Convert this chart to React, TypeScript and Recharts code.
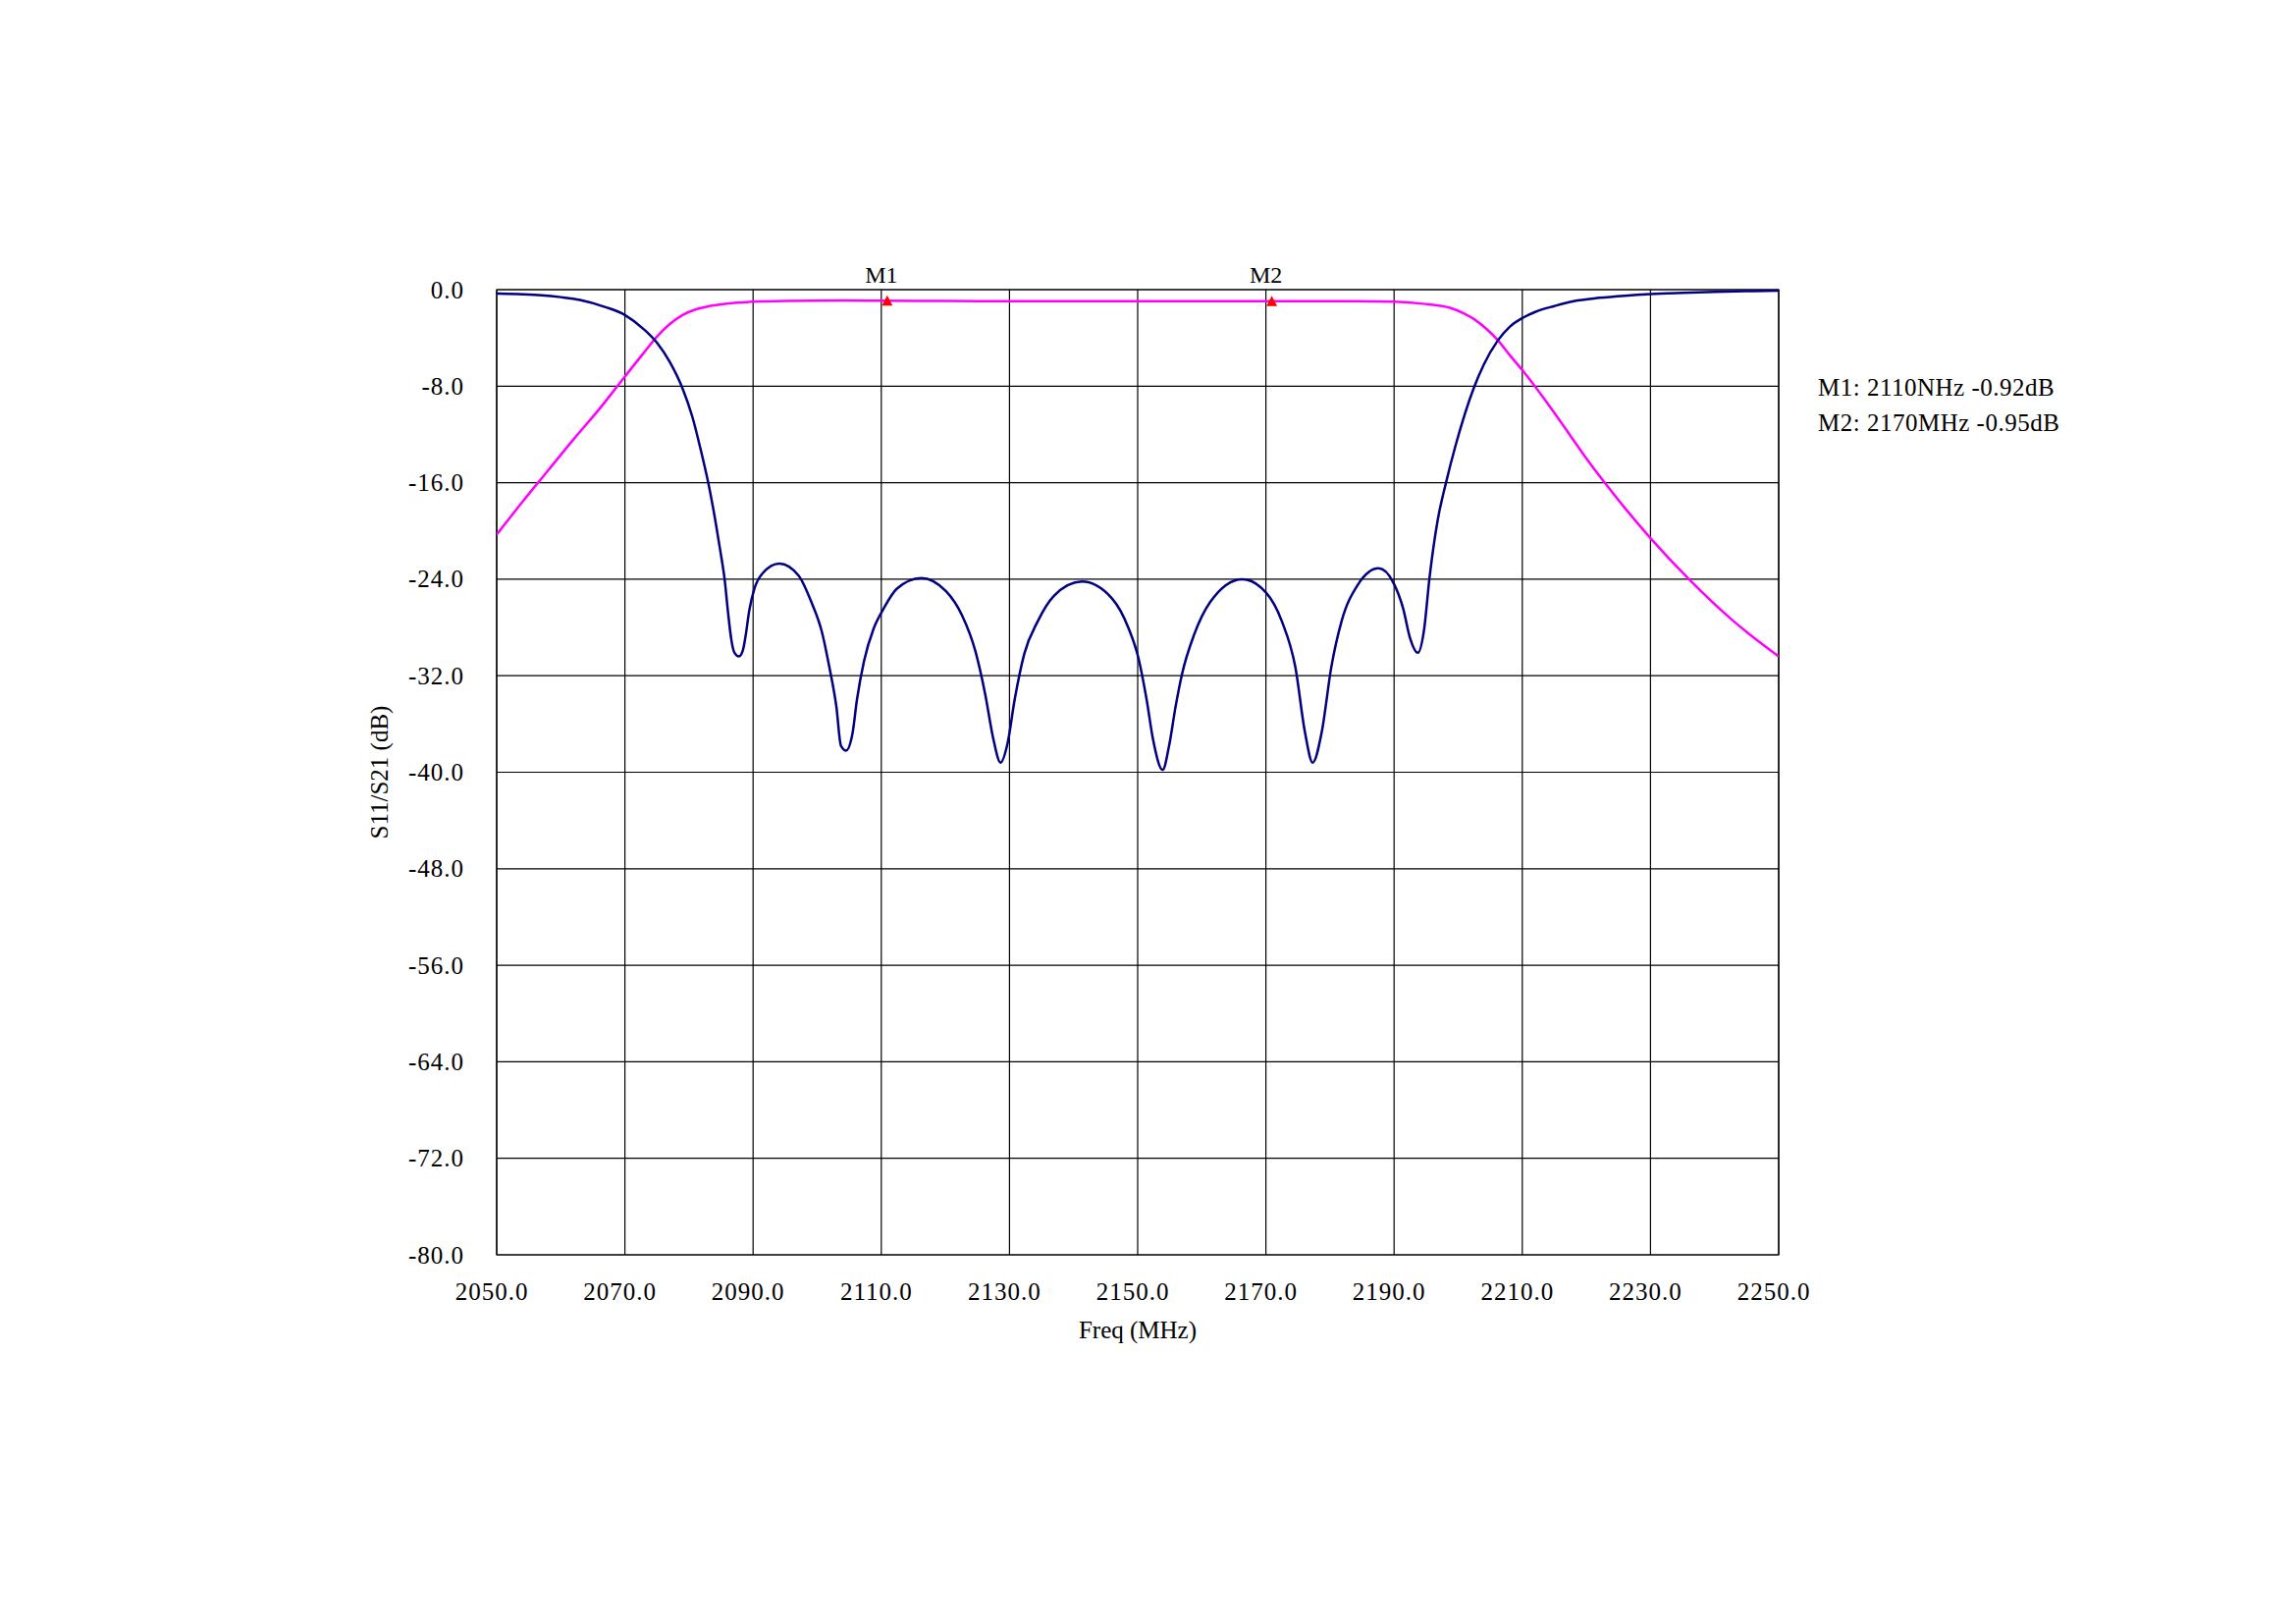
import React from "react";
import { LineChart, Line, XAxis, YAxis, CartesianGrid, ReferenceDot, ReferenceArea } from "recharts";

const FONT = '"Liberation Serif", "Times New Roman", serif';

// axis ticks
const freqTicks = [2050, 2070, 2090, 2110, 2130, 2150, 2170, 2190, 2210, 2230, 2250];
const levelTicks = [0, -8, -16, -24, -32, -40, -48, -56, -64, -72, -80];

// S11 (return loss)
const s11Freq = [
  2050, 2054, 2057, 2060, 2063, 2067, 2070, 2073, 2075, 2077, 2079, 2080.5, 2081.8, 2083, 2084.1,
  2084.9, 2085.6, 2086.1, 2086.6, 2087.1, 2087.8, 2088.4, 2088.8, 2089.4, 2090.2, 2091.5, 2094.1, 2097.1,
  2099.1, 2100.7, 2101.9, 2103, 2103.7, 2104.5, 2105.5, 2106.2, 2107.3, 2108.8, 2110.4, 2112.4, 2116.2,
  2120.1, 2122.6, 2124.7, 2126.2, 2127.5, 2128.6, 2129.7, 2130.8, 2132.3, 2134.4, 2136.9, 2141.3, 2146,
  2148.6, 2150.1, 2151.4, 2152.4, 2153.9, 2154.9, 2155.9, 2156.9, 2158.8, 2161.3, 2166.3, 2170, 2172.5,
  2174.6, 2176.1, 2177.3, 2178.7, 2180.2, 2181.8, 2184.3, 2187.6, 2189.9, 2191.4, 2192.5, 2193.7, 2194.7,
  2195.5, 2196.8, 2198.1, 2199.6, 2201.1, 2202.4, 2204, 2206.2, 2208, 2210.2, 2212, 2215, 2218, 2222,
  2226, 2230, 2235, 2240, 2245, 2250,
];
const s11Db = [
  -0.33, -0.38, -0.46, -0.62, -0.85, -1.45, -2.1, -3.3, -4.4, -6.0, -8.2, -10.5, -13.2, -16.0, -19.1,
  -21.7, -24.2, -26.8, -29.0, -30.1, -30.4, -29.9, -28.8, -26.6, -24.8, -23.5, -22.7, -23.7,
  -25.9, -28.3, -31.3, -34.6, -37.8, -38.2, -36.8, -34.0, -30.8, -28.1, -26.4, -24.8, -23.9,
  -25.0, -27.0, -30.0, -33.5, -37.3, -39.2, -37.6, -34.0, -30.2, -27.5, -25.4, -24.2, -25.6,
  -28.1, -30.5, -34.0, -37.3, -39.8, -37.8, -34.6, -31.9, -28.6, -25.9, -24.0, -25.1, -27.5,
  -31.3, -36.7, -39.2, -36.7, -31.3, -27.5, -24.5, -23.1, -24.3, -26.4, -28.9, -30.1, -28.1,
  -24.0, -19.1, -16.0, -12.9, -10.2, -8.2, -6.2, -4.2, -3.1, -2.3, -1.85, -1.36, -0.95, -0.68,
  -0.5, -0.37, -0.27, -0.19, -0.13, -0.08,
];

// S21 (insertion loss)
const s21Freq = [
  2050, 2054, 2058, 2062, 2066, 2070, 2073, 2075, 2077, 2079, 2081, 2083, 2086, 2090, 2095, 2104, 2110,
  2120, 2130, 2150, 2170, 2184, 2190, 2194.5, 2198.6, 2201, 2202.5, 2204.5, 2206.2, 2208, 2210.2, 2213.9,
  2217.5, 2220, 2223, 2226, 2230, 2236, 2243, 2250,
];
const s21Db = [
  -20.3, -17.6, -15.0, -12.4, -9.9, -7.2, -5.2, -3.9, -2.85, -2.1, -1.65, -1.38, -1.15, -1.0, -0.93, -0.9, -0.92,
  -0.94, -0.95, -0.95, -0.95, -0.96, -1.0, -1.17, -1.49, -2.0, -2.45, -3.3, -4.2, -5.4, -6.8, -9.4,
  -12.1, -14.0, -16.1, -18.1, -20.6, -24.0, -27.5, -30.4,
];

// markers
const markerNames = ["M1", "M2"];
const markerFreqs = [2110, 2170];
const markerDb = [-0.92, -0.95];
const markerReadouts = ["M1: 2110NHz -0.92dB", "M2: 2170MHz -0.95dB"];

const s11Data = s11Freq.map((f, i) => ({ f, db: s11Db[i] }));
const s21Data = s21Freq.map((f, i) => ({ f, db: s21Db[i] }));

const XTick = ({ x, y, payload }: any) => (
  <text x={x - 5} y={y} textAnchor="middle" dominantBaseline="central" fontSize={25} letterSpacing={1} fill="#000" fontFamily={FONT}>
    {Number(payload.value).toFixed(1)}
  </text>
);

const YTick = ({ x, y, payload }: any) => (
  <text x={x} y={y} textAnchor="end" dominantBaseline="central" fontSize={25} letterSpacing={1} fill="#000" fontFamily={FONT}>
    {Number(payload.value).toFixed(1)}
  </text>
);

const XTitle = ({ viewBox }: any) => (
  <text x={viewBox.x + viewBox.width / 2} y={viewBox.y + 76} textAnchor="middle" dominantBaseline="central" fontSize={25} fill="#000" fontFamily={FONT}>
    Freq (MHz)
  </text>
);

const YTitle = ({ viewBox }: any) => {
  const cx = viewBox.x + 10;
  const cy = viewBox.y + viewBox.height / 2;
  return (
    <text x={cx} y={cy} transform={`rotate(-90 ${cx} ${cy})`} textAnchor="middle" dominantBaseline="central" fontSize={25} fill="#000" fontFamily={FONT}>
      S11/S21 (dB)
    </text>
  );
};

const Triangle = ({ cx, cy }: any) => {
  const x = cx + 6;
  return <polygon points={`${x - 5.5},${cy + 5} ${x + 5.5},${cy + 5} ${x},${cy - 5.5}`} fill="#ff0000" />;
};

export default function App() {
  return (
    <div style={{ position: "relative", width: 2323, height: 1638, fontFamily: FONT }}>
      <LineChart width={2323} height={1638} margin={{ top: 287, right: 519, bottom: 288, left: 368 }}>
        <CartesianGrid stroke="#000" strokeWidth={1.2} />
        <XAxis
          type="number"
          dataKey="f"
          domain={[2050, 2250]}
          ticks={freqTicks}
          interval={0}
          allowDataOverflow
          tickLine={false}
          axisLine={false}
          tickSize={0}
          tickMargin={37}
          height={80}
          tick={<XTick />}
          label={<XTitle />}
        />
        <YAxis
          type="number"
          domain={[-80, 0]}
          ticks={levelTicks}
          interval={0}
          allowDataOverflow
          tickLine={false}
          axisLine={false}
          tickSize={0}
          tickMargin={33}
          width={130}
          tick={<YTick />}
          label={<YTitle />}
        />
        <ReferenceArea x1={2050} x2={2250} y1={-80} y2={0} fill="none" stroke="#000" strokeWidth={1.2} />
        <Line data={s21Data} dataKey="db" name="S21" type="monotone" stroke="#ff00ff" strokeWidth={2.5} dot={false} isAnimationActive={false} />
        <Line data={s11Data} dataKey="db" name="S11" type="monotone" stroke="#000080" strokeWidth={2.5} dot={false} isAnimationActive={false} />
        {markerFreqs.map((f, i) => (
          <ReferenceDot key={`lab-${i}`} x={f} y={0} r={0} fill="none" stroke="none"
            label={{ value: markerNames[i], position: "top", offset: 7, fill: "#000", fontSize: 24, fontFamily: FONT }} />
        ))}
        {markerFreqs.map((f, i) => (
          <ReferenceDot key={`tri-${i}`} x={f} y={markerDb[i]} shape={<Triangle />} />
        ))}
      </LineChart>
      <div style={{ position: "absolute", left: 1844, top: 369, fontSize: 25, lineHeight: "36px", color: "#000", letterSpacing: 0.5, whiteSpace: "pre" }}>
        {markerReadouts.map((t, i) => (
          <div key={i}>{t}</div>
        ))}
      </div>
    </div>
  );
}
